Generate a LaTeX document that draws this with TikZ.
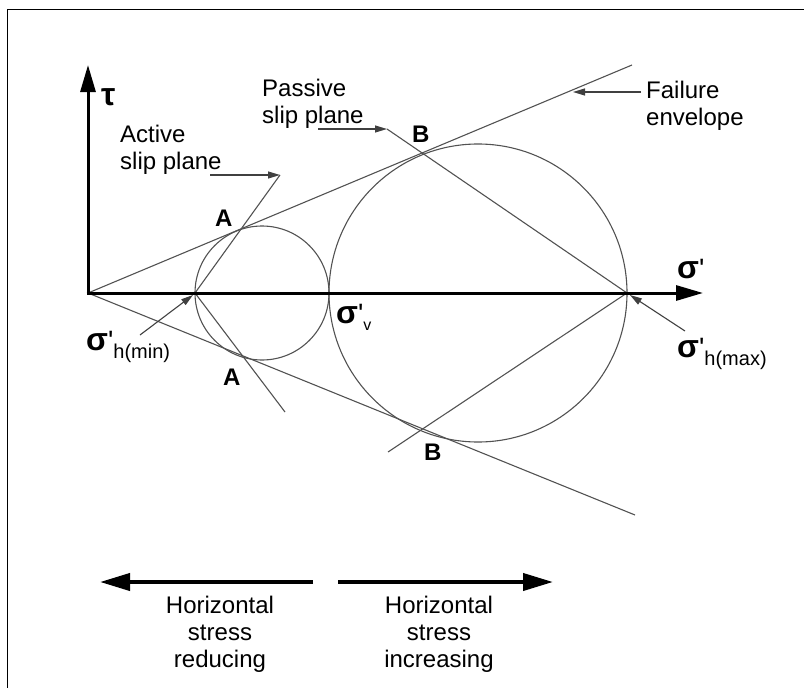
\documentclass[tikz,border=0pt]{standalone}
\usepackage{fontspec}
\setmainfont{Liberation Sans}[Ligatures=TeXOff]
\usetikzlibrary{arrows.meta}
\newcommand\mysig{{\bfseries\fontsize{32}{32}\selectfont σ}}
\newcommand\mytau{{\bfseries\fontsize{32}{32}\selectfont τ}}
\newcommand\myprime{{\fontsize{28}{28}\selectfont\char"27}}
\newcommand\mysub[1]{\raisebox{-8pt}{\fontsize{20}{20}\selectfont #1}}
\tikzset{
  thinline/.style={line width=1.1pt, draw=black!68},
  axisarrow/.style={line width=3pt, -{Triangle[length=27pt,width=15pt]}},
  ptr/.style={line width=1.1pt, draw=black!75, -{Triangle[length=12pt,width=7pt]}},
  dirarrow/.style={line width=4pt, -{Triangle[length=30pt,width=17pt]}},
  lab/.style={inner sep=0pt, font=\fontsize{24}{27}\selectfont},
  ptlabel/.style={inner sep=0pt, font=\bfseries\fontsize{24}{24}\selectfont, anchor=base west},
  greek/.style={inner sep=0pt, anchor=base west},
}
\begin{document}
\begin{tikzpicture}[x=1pt,y=-1pt]
\useasboundingbox (0,0) rectangle (804,688);
% frame
\coordinate (fbl) at (7,688);
\coordinate (ftl) at (7,9);
\coordinate (ftr) at (804,9);
\draw[line width=1pt] (fbl) -- (ftl) -- (ftr);

% key points
\coordinate (O) at (88,293);
\coordinate (tauTip) at (88,65);
\coordinate (sigTip) at (703,293);
\coordinate (C1) at (262,293);
\coordinate (C2) at (478,293);
\coordinate (hmin) at (195,293);
\coordinate (sv) at (329,293);
\coordinate (hmax) at (627,293);
\coordinate (E1) at (632,65);
\coordinate (E2) at (635,515);
\coordinate (act1) at (280,175);
\coordinate (act2) at (285,412);
\coordinate (pas1) at (387,129);
\coordinate (pas2) at (388,452);

% circles
\draw[thinline] (C1) circle[radius=67];
\draw[thinline] (C2) circle[radius=149];

% failure envelopes
\draw[thinline] (O) -- (E1);
\draw[thinline] (O) -- (E2);

% slip planes
\draw[thinline] (hmin) -- (act1);
\draw[thinline] (hmin) -- (act2);
\draw[thinline] (hmax) -- (pas1);
\draw[thinline] (hmax) -- (pas2);

% axes
\draw[axisarrow] (O) -- (tauTip);
\draw[axisarrow] ([xshift=-1.5pt]O) -- (sigTip);

% pointer arrows
\coordinate (actS) at (210,175);
\coordinate (pasS) at (318,129);
\coordinate (failS) at (641,92);
\coordinate (failT) at (573,92);
\coordinate (hminS) at (140,335);
\coordinate (hminT) at (193,295);
\coordinate (hmaxS) at (685,331);
\coordinate (hmaxT) at (630,295);
\draw[ptr] (actS) -- (act1);
\draw[ptr] (pasS) -- (pas1);
\draw[ptr] (failS) -- (failT);
\draw[ptr] (hminS) -- (hminT);
\draw[ptr] (hmaxS) -- (hmaxT);

% text labels
\node[lab, anchor=north west, align=left] (actL) at (120,124.5) {Active\\slip plane};
\node[lab, anchor=north west, align=left] (pasL) at (262,79) {Passive\\slip plane};
\node[lab, anchor=north west, align=left] (failL) at (646,81) {Failure\\envelope};

% points
\node[ptlabel] (A1) at (215,226) {A};
\node[ptlabel] (A2) at (223,385) {A};
\node[ptlabel] (B1) at (412,142) {B};
\node[ptlabel] (B2) at (424,460) {B};

% greek labels
\node[greek] (tau) at (101,105) {\mytau};
\node[greek] (sig) at (677,278) {\mysig\myprime};
\node[greek] (smin) at (86,350) {\mysig\myprime\mysub{h(min)}};
\node[greek] (smax) at (677,357) {\mysig\myprime\mysub{h(max)}};
\node[greek] (svl) at (336,323) {\mysig\myprime\raisebox{-7pt}{\fontsize{16}{16}\selectfont v}};

% direction arrows
\coordinate (lS) at (313,582);
\coordinate (lT) at (100,582);
\coordinate (rS) at (338,582);
\coordinate (rT) at (553,582);
\draw[dirarrow] (lS) -- (lT);
\draw[dirarrow] (rS) -- (rT);
\node[lab, anchor=north, align=center] (red) at (220,596) {Horizontal\\stress\\reducing};
\node[lab, anchor=north, align=center] (inc) at (439,596) {Horizontal\\stress\\increasing};
\end{tikzpicture}
\end{document}
